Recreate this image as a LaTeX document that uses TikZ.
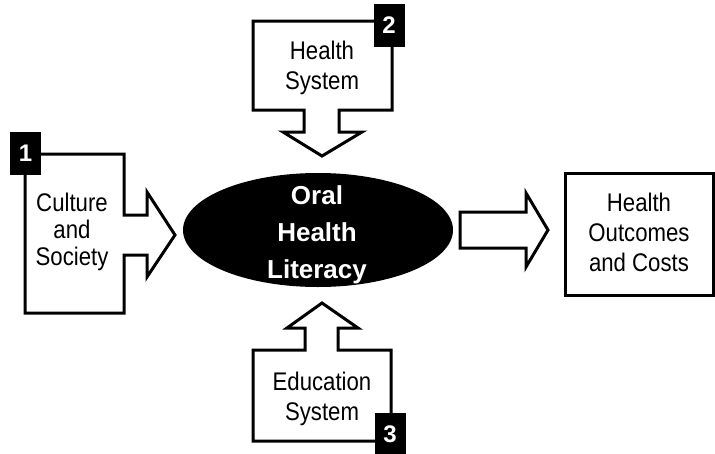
\documentclass[tikz,border=0pt]{standalone}
\usepackage{fontspec}
\setmainfont{Liberation Sans}
\usepackage{graphicx}
\usetikzlibrary{shapes.geometric}
% slightly condensed regular text
\newcommand\nar[1]{\scalebox{0.87}[1]{#1}}
\begin{document}
\begin{tikzpicture}[x=1pt,y=-1pt,
  blockarrow/.style={draw=black,line width=3pt,fill=white,line join=miter},
  boxtext/.style={align=center,inner sep=0pt,font=\fontsize{25.5}{30}\selectfont},
  badge/.style={fill=black,minimum width=31pt,minimum height=43pt,inner sep=0pt,
    text=white,font=\fontsize{24}{24}\selectfont\bfseries},
  core/.style={ellipse,fill=black,minimum width=270pt,minimum height=114pt,inner sep=0pt}]
\useasboundingbox (0,0) rectangle (715,453);

% central ellipse
\node[core] (ohl) at (318,230) {};
\node[align=center,inner sep=0pt,text=white,
  font=\fontsize{26}{37}\selectfont\bfseries] (ohltext) at (317,235)
  {Oral\\Health\\Literacy};

% Culture and Society: box with arrow pointing right
\path[blockarrow] (25,154) -- (124,154) -- (124,215) -- (147,215) -- (147,192)
  -- (175,235) -- (147,277) -- (147,255) -- (124,255) -- (124,313) -- (25,313) -- cycle;
\node[boxtext,font=\fontsize{25.5}{27}\selectfont] (culture) at (72,232)
  {\nar{Culture}\\\nar{and}\\\nar{Society}};
\node[badge] (b1) at (25.5,153) {1};

% Health System: box with arrow pointing down
\path[blockarrow] (253,21) -- (392,21) -- (392,110) -- (339,110) -- (339,132)
  -- (362,132) -- (322,156) -- (283,132) -- (304,132) -- (304,110) -- (253,110) -- cycle;
\node[boxtext] (hsys) at (322,68) {\nar{Health}\\\nar{System}};
\node[badge] (b2) at (389,25.5) {2};

% Education System: box with arrow pointing up
\path[blockarrow] (253,350) -- (305,350) -- (305,328) -- (287,328) -- (322,303)
  -- (358,328) -- (338,328) -- (338,350) -- (391,350) -- (391,441) -- (253,441) -- cycle;
\node[boxtext] (esys) at (322,399) {\nar{Education}\\\nar{System}};
\node[badge] (b3) at (390,434) {3};

% outgoing arrow and outcomes box
\path[blockarrow] (460,212) -- (526,212) -- (526,193) -- (548,230) -- (526,267)
  -- (526,248) -- (460,248) -- cycle;
\draw[line width=3pt] (565,173) rectangle (713,295);
\node[boxtext] (outcomes) at (639,232)
  {\nar{Health}\\\nar{Outcomes}\\\nar{and Costs}};
\end{tikzpicture}
\end{document}
